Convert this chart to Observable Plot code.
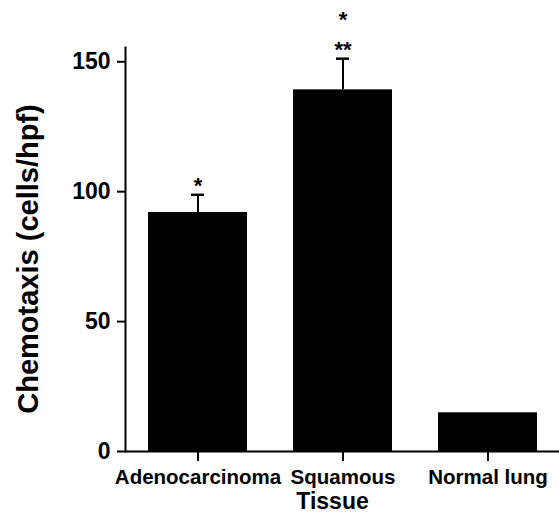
<!DOCTYPE html>
<html><head><meta charset="utf-8">
<script src="https://cdn.jsdelivr.net/npm/d3@7"></script>
<script src="https://cdn.jsdelivr.net/npm/@observablehq/plot@0.6"></script>
<style>body{margin:0;background:#fff}</style>
</head><body><div id="chart"></div>
<script>
const tissues = ["Adenocarcinoma", "Squamous", "Normal lung"];
const means = [92.0, 139.2, 14.9];
const errors = [6.8, 12.0, 0];
const marksNear = ["*", "**", ""];
const marksFar = ["", "*", ""];
const yTicks = [0, 50, 100, 150];

const data = tissues.map((t, i) => ({
  tissue: t, mean: means[i], err: errors[i], top: means[i] + errors[i],
  near: marksNear[i], far: marksFar[i]
}));
const withErr = data.filter(d => d.err > 0);

const chart = Plot.plot({
  width: 559, height: 519,
  marginLeft: 125, marginRight: 0, marginTop: 47, marginBottom: 68,
  style: {fontFamily: "'Liberation Sans', Arial, sans-serif", fontWeight: "bold", color: "#000", background: "#fff", overflow: "visible"},
  x: {domain: tissues, paddingInner: 0.32, paddingOuter: 0.15, label: null},
  y: {domain: [0, 155.5], label: null},
  marks: [
    Plot.barY(data, {x: "tissue", y: "mean", fill: "#000"}),
    Plot.ruleX(withErr, {x: "tissue", y1: "mean", y2: "top", strokeWidth: 2}),
    Plot.tickY(withErr, {x: "tissue", y: "top", strokeWidth: 2.5, insetLeft: 43, insetRight: 43}),
    Plot.text(data, {x: "tissue", y: "top", text: "near", dy: -9, fontSize: 22}),
    Plot.text(data, {x: "tissue", y: "top", text: "far", dy: -39, fontSize: 22}),
    Plot.ruleY([0], {strokeWidth: 2}),
    Plot.frame({anchor: "left", strokeWidth: 2}),
    Plot.axisY({ticks: yTicks, tickSize: 8, tickPadding: 7, strokeWidth: 2, fontSize: 23, label: null}),
    Plot.axisX({tickSize: 10, tickPadding: 8, strokeWidth: 2, fontSize: 20.5, label: null}),
    Plot.text(["Tissue"], {frameAnchor: "bottom", textAnchor: "middle", lineAnchor: "middle", dy: 50, dx: -10, fontSize: 23}),
    Plot.text(["Chemotaxis (cells/hpf)"], {frameAnchor: "left", textAnchor: "middle", lineAnchor: "middle", rotate: -90, dx: -97, dy: 9.5, fontSize: 29})
  ]
});
document.getElementById("chart").appendChild(chart);
</script>
</body></html>
